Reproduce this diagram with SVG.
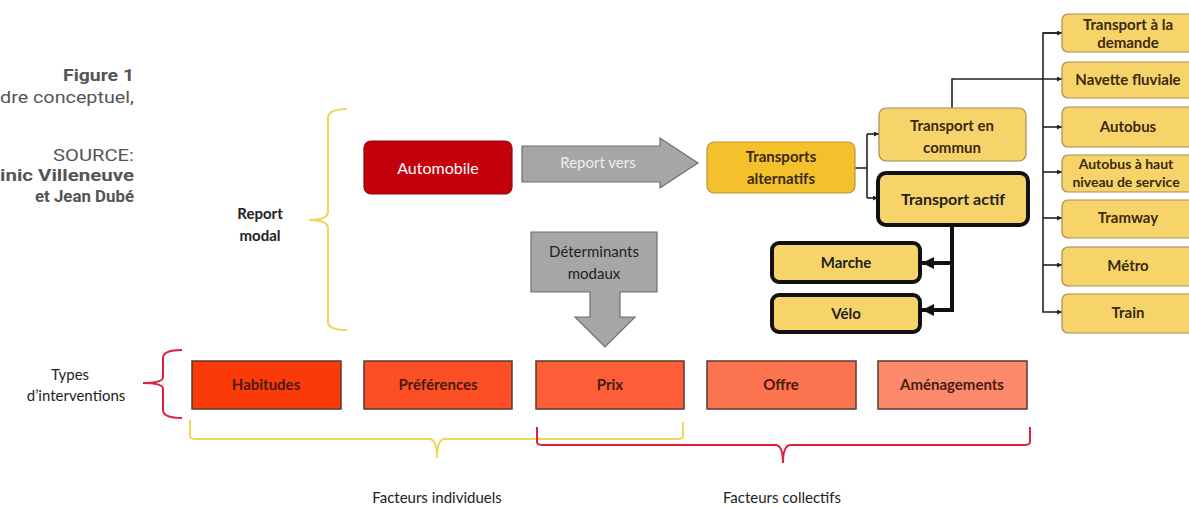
<svg xmlns="http://www.w3.org/2000/svg" width="1189" height="507" viewBox="0 0 1189 507">
<defs>
<style>
text{font-family:Lato,"Open Sans","Liberation Sans",sans-serif;font-size:15px;text-anchor:middle;fill:#222}
.fig{font-family:Roboto,"Liberation Sans",sans-serif;font-size:17px;text-anchor:end;fill:#555}
.figb{font-weight:700}
.b{font-weight:700}
.yb{fill:#f7d46a;stroke:#a88b55;stroke-width:1.2}
.thick{fill:#f7d46a;stroke:#111;stroke-width:4}
.bot{stroke:#5a3a30;stroke-width:1.5}
.bt{font-weight:700;fill:#4a1a10}
.thin{fill:none;stroke:#222;stroke-width:1.6}
.fat{fill:none;stroke:#111;stroke-width:4}
.ybr{fill:none;stroke:#f2d45c;stroke-width:2}
.rbr{fill:none;stroke:#e0203c;stroke-width:2}
</style>
<marker id="ah" viewBox="0 0 10 10" refX="10" refY="5" markerWidth="5" markerHeight="5" orient="auto" markerUnits="userSpaceOnUse"><path d="M0,0 L10,5 L0,10 z" fill="#222"/></marker>
<marker id="ahb" viewBox="0 0 10 10" refX="10" refY="5" markerWidth="12" markerHeight="12" orient="auto" markerUnits="userSpaceOnUse"><path d="M0,0 L10,5 L0,10 z" fill="#111"/></marker>
</defs>
<rect width="1189" height="507" fill="#fff"/>

<g id="caption">
<text class="fig figb" x="134" y="81" textLength="71" lengthAdjust="spacingAndGlyphs">Figure 1</text>
<text class="fig" x="134" y="103" textLength="134" lengthAdjust="spacingAndGlyphs">dre conceptuel,</text>
<text class="fig" x="134" y="161" textLength="81" lengthAdjust="spacingAndGlyphs">SOURCE:</text>
<text class="fig figb" x="134" y="181" textLength="134" lengthAdjust="spacingAndGlyphs">inic Villeneuve</text>
<text class="fig figb" x="134" y="202" textLength="99" lengthAdjust="spacingAndGlyphs">et Jean Dubé</text>
</g>

<g id="report-modal-label">
<text class="b" x="260" y="219">Report</text>
<text class="b" x="260" y="241">modal</text>
<path class="ybr" d="M347,109 Q328,109 328,118 L328,212 Q328,220 309,220 Q328,220 328,228 L328,322 Q328,330 347,330"/>
</g>

<g id="types-label">
<text x="70" y="380">Types</text>
<text x="76" y="401">d’interventions</text>
<path class="rbr" d="M182,350 Q163,350 163,358 L163,377 Q163,383 143,383 Q163,383 163,389 L163,410 Q163,418 182,418"/>
</g>

<g id="connectors">
<path class="thin" d="M855,168 H867 M867,134 V198"/>
<path class="thin" d="M867,134 H879" marker-end="url(#ah)"/>
<path class="thin" d="M867,198 H878" marker-end="url(#ah)"/>
<path class="thin" d="M952,108 V79 H1062" marker-end="url(#ah)"/>
<path class="thin" d="M1062,33 H1043 V312 H1062" marker-end="url(#ah)"/>
<path class="thin" d="M1043,33 H1062" marker-end="url(#ah)"/>
<path class="thin" d="M1043,127 H1062" marker-end="url(#ah)"/>
<path class="thin" d="M1043,172 H1062" marker-end="url(#ah)"/>
<path class="thin" d="M1043,218 H1062" marker-end="url(#ah)"/>
<path class="thin" d="M1043,265 H1062" marker-end="url(#ah)"/>
<path class="fat" d="M952,225 V310 H922" marker-end="url(#ahb)"/>
<path class="fat" d="M952,263 H922" marker-end="url(#ahb)"/>
</g>

<g id="automobile">
<rect x="364" y="141" width="148" height="53" rx="7" fill="#c4000c" stroke="#8a0a0a" stroke-width="1.2"/>
<text x="438" y="174" style="fill:#fff;font-size:16px">Automobile</text>
</g>

<g id="report-vers">
<path d="M522,146 H660 V138 L698,163 L660,188 V182 H522 Z" fill="#a6a6a6" stroke="#6e6e6e" stroke-width="1.2"/>
<text x="598" y="168" style="fill:#eee">Report vers</text>
</g>

<g id="transports-alternatifs">
<rect x="707" y="142" width="148" height="51" rx="7" fill="#f4c02c" stroke="#b8963e" stroke-width="1.2"/>
<text class="b" x="781" y="162" style="fill:#3a2a10">Transports</text>
<text class="b" x="781" y="184" style="fill:#3a2a10">alternatifs</text>
</g>

<g id="transport-en-commun">
<rect class="yb" x="879" y="108" width="147" height="53" rx="7"/>
<text class="b" x="952" y="131" style="fill:#3a2a10">Transport en</text>
<text class="b" x="952" y="153" style="fill:#3a2a10">commun</text>
</g>

<g id="transport-actif">
<rect class="thick" x="878" y="173" width="150" height="52" rx="8"/>
<text class="b" x="953" y="205" style="font-size:16px">Transport actif</text>
</g>

<g id="marche">
<rect class="thick" x="772" y="243" width="148" height="39" rx="7"/>
<text class="b" x="846" y="268">Marche</text>
</g>
<g id="velo">
<rect class="thick" x="772" y="295" width="148" height="37" rx="7"/>
<text class="b" x="846" y="319">Vélo</text>
</g>

<g id="tad">
<rect class="yb" x="1062" y="14" width="140" height="38" rx="6"/>
<text class="b" x="1128" y="30" style="fill:#3a2a10">Transport à la</text>
<text class="b" x="1128" y="48" style="fill:#3a2a10">demande</text>
</g>
<g id="navette">
<rect class="yb" x="1062" y="62" width="140" height="36" rx="6"/>
<text class="b" x="1128" y="85" style="fill:#3a2a10">Navette fluviale</text>
</g>
<g id="autobus">
<rect class="yb" x="1062" y="107" width="140" height="40" rx="6"/>
<text class="b" x="1128" y="132" style="fill:#3a2a10">Autobus</text>
</g>
<g id="bhns">
<rect class="yb" x="1062" y="155" width="140" height="37" rx="6"/>
<text class="b" x="1126" y="169" style="fill:#3a2a10;font-size:14px">Autobus à haut</text>
<text class="b" x="1126" y="187" style="fill:#3a2a10;font-size:14px">niveau de service</text>
</g>
<g id="tramway">
<rect class="yb" x="1062" y="200" width="140" height="38" rx="6"/>
<text class="b" x="1128" y="223" style="fill:#3a2a10">Tramway</text>
</g>
<g id="metro">
<rect class="yb" x="1062" y="247" width="140" height="39" rx="6"/>
<text class="b" x="1128" y="271" style="fill:#3a2a10">Métro</text>
</g>
<g id="train">
<rect class="yb" x="1062" y="294" width="140" height="39" rx="6"/>
<text class="b" x="1128" y="318" style="fill:#3a2a10">Train</text>
</g>

<g id="determinants">
<path d="M531,232 H657 V292 H620 V317 H635 L605,347 L575,317 H590 V292 H531 Z" fill="#a6a6a6" stroke="#6e6e6e" stroke-width="1.2"/>
<text x="594" y="257" style="fill:#222">Déterminants</text>
<text x="594" y="279" style="fill:#222">modaux</text>
</g>

<g id="habitudes">
<rect class="bot" x="192" y="361" width="149" height="48" fill="#fb3a0a"/>
<text class="bt" x="266" y="390">Habitudes</text>
</g>
<g id="preferences">
<rect class="bot" x="364" y="361" width="148" height="48" fill="#fc4f25"/>
<text class="bt" x="438" y="390">Préférences</text>
</g>
<g id="prix">
<rect class="bot" x="536" y="361" width="148" height="48" fill="#fc5e38"/>
<text class="bt" x="610" y="390">Prix</text>
</g>
<g id="offre">
<rect class="bot" x="707" y="361" width="149" height="48" fill="#fc7350"/>
<text class="bt" x="781" y="390">Offre</text>
</g>
<g id="amenagements">
<rect class="bot" x="878" y="361" width="149" height="48" fill="#fb8a6c"/>
<text class="bt" x="952" y="390">Aménagements</text>
</g>

<g id="brackets">
<path class="ybr" d="M190,420 V436 Q190,439 196,439 L430,439 Q437,440 437,458 Q437,440 444,439 L678,439 Q683,439 683,436 V422"/>
<path class="rbr" d="M537,427 V442 Q537,445 543,445 L776,445 Q783,446 783,463 Q783,446 790,445 L1024,445 Q1030,445 1030,442 V427"/>
<text x="437" y="503">Facteurs individuels</text>
<text x="782" y="503">Facteurs collectifs</text>
</g>
</svg>
